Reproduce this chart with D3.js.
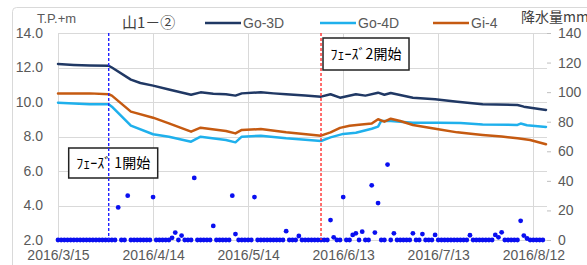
<!DOCTYPE html>
<html>
<head>
<meta charset="utf-8">
<script src="https://cdn.jsdelivr.net/npm/d3@7"></script>
<style>
  body { margin: 0; background: #fff; }
  svg { display: block; }
</style>
</head>
<body>
<svg id="chart" width="587" height="265"></svg>
<script>
// water level series (T.P.+m)
const go3d = [
  ["2016-03-15", 12.2], ["2016-03-20", 12.15], ["2016-03-25", 12.12], ["2016-03-31", 12.1],
  ["2016-04-01", 12.0], ["2016-04-07", 11.3], ["2016-04-10", 11.1], ["2016-04-14", 10.95],
  ["2016-04-19", 10.72], ["2016-04-23", 10.55], ["2016-04-26", 10.42], ["2016-04-29", 10.56],
  ["2016-05-03", 10.48], ["2016-05-07", 10.45], ["2016-05-10", 10.37], ["2016-05-12", 10.5],
  ["2016-05-18", 10.56], ["2016-05-22", 10.5], ["2016-05-26", 10.45], ["2016-06-01", 10.38],
  ["2016-06-06", 10.31], ["2016-06-09", 10.45], ["2016-06-12", 10.25], ["2016-06-17", 10.45],
  ["2016-06-20", 10.37], ["2016-06-24", 10.54], ["2016-06-26", 10.42], ["2016-06-28", 10.52],
  ["2016-07-05", 10.25], ["2016-07-12", 10.16], ["2016-07-19", 10.02], ["2016-07-27", 9.87],
  ["2016-08-07", 9.83], ["2016-08-09", 9.73], ["2016-08-16", 9.54]
];
const go4d = [
  ["2016-03-15", 9.96], ["2016-03-25", 9.87], ["2016-03-31", 9.87], ["2016-04-01", 9.73],
  ["2016-04-07", 8.63], ["2016-04-14", 8.13], ["2016-04-19", 7.99], ["2016-04-26", 7.7],
  ["2016-04-29", 7.99], ["2016-05-07", 7.8], ["2016-05-10", 7.66], ["2016-05-12", 7.99],
  ["2016-05-18", 8.05], ["2016-05-26", 7.9], ["2016-06-06", 7.74], ["2016-06-09", 7.95],
  ["2016-06-13", 8.15], ["2016-06-17", 8.22], ["2016-06-22", 8.45], ["2016-06-24", 8.57],
  ["2016-06-25", 8.9], ["2016-06-28", 8.9], ["2016-07-05", 8.8], ["2016-07-13", 8.8],
  ["2016-07-20", 8.78], ["2016-07-27", 8.7], ["2016-08-07", 8.67], ["2016-08-08", 8.75],
  ["2016-08-10", 8.65], ["2016-08-16", 8.55]
];
const gi4 = [
  ["2016-03-15", 10.5], ["2016-03-25", 10.5], ["2016-03-31", 10.45], ["2016-04-01", 10.37],
  ["2016-04-07", 9.44], ["2016-04-14", 9.09], ["2016-04-19", 8.76], ["2016-04-26", 8.28],
  ["2016-04-29", 8.51], ["2016-05-07", 8.32], ["2016-05-10", 8.18], ["2016-05-12", 8.38],
  ["2016-05-18", 8.43], ["2016-05-26", 8.24], ["2016-06-06", 8.05], ["2016-06-09", 8.24],
  ["2016-06-12", 8.5], ["2016-06-15", 8.62], ["2016-06-18", 8.68], ["2016-06-22", 8.75],
  ["2016-06-24", 9.0], ["2016-06-26", 8.86], ["2016-06-28", 9.03], ["2016-07-01", 8.9],
  ["2016-07-05", 8.67], ["2016-07-13", 8.42], ["2016-07-19", 8.24], ["2016-07-24", 8.14],
  ["2016-07-27", 8.09], ["2016-08-02", 8.0], ["2016-08-07", 7.9], ["2016-08-11", 7.8],
  ["2016-08-16", 7.55]
];

// daily rainfall (mm) from 2016-03-15
const rainStart = "2016-03-15";
const rain = [
  0, 0, 0, 0, 0, 0, 0, 0, 0, 0,
  0, 0, 0, 0, 0, 0, 0, 0, 0, 22,
  0, 0, 30, 0, 0, 0, 0, 0, 0, 0,
  29, 0, 0, 0, 0, 0, 1.5, 5, 0, 3,
  0, 0, 0, 42, 0, 0, 0, 0, 0, 9.5,
  0, 0, 0, 0, 0, 30, 4, 0, 0, 0,
  0, 0, 29, 0, 0, 0, 0, 0, 0, 0,
  0, 0, 6, 0, 0, 0, 2.7, 0, 0, 0,
  0, 0, 0, 0, 0, 0, 13.5, 1.8, 0, 0,
  29, 0, 0, 3.4, 4.5, 0, 5.6, 0, 0, 37,
  5, 25, 0, 0, 51, 0, 4.5, 0, 0, 0,
  0, 0, 4.5, 0, 0, 4, 0, 0, 0, 3.4,
  0, 0, 0, 0, 0, 0, 0, 0, 0, 0,
  3.2, 0, 0, 0, 0, 0, 0, 0, 3.4, 1.8,
  5.2, 0, 0, 0, 0, 0, 13, 3, 1, 0,
  0, 0, 0, 0
];

const xTicks = ["2016-03-15", "2016-04-14", "2016-05-14", "2016-06-13", "2016-07-13", "2016-08-12"];
const leftTicks = [2, 4, 6, 8, 10, 12, 14];
const rightTicks = [0, 20, 40, 60, 80, 100, 120, 140];
const phases = [
  {date: "2016-03-31", label: "ﾌｪｰｽﾞ 1開始"},
  {date: "2016-06-06", label: "ﾌｪｰｽﾞ2開始"}
];
const seriesNames = ["Go-3D", "Go-4D", "Gi-4"];

const parse = d3.utcParse("%Y-%m-%d");
const svg = d3.select('#chart');
const sans = "'Liberation Sans', Arial, sans-serif";
const jp = "'Noto Sans CJK JP', sans-serif";

const m = {left: 58, right: 547, top: 33, bottom: 240};

const x = d3.scaleUtc()
  .domain([parse("2016-03-15"), parse("2016-08-16")])
  .range([m.left, 546]);
const y = d3.scaleLinear().domain([2, 14]).range([m.bottom, m.top]);
const yr = d3.scaleLinear().domain([0, 140]).range([m.bottom, m.top]);

// outer frame
svg.append('rect')
  .attr('x', 12.5).attr('y', 7.5)
  .attr('width', 600).attr('height', 280)
  .attr('rx', 4)
  .attr('fill', 'none')
  .attr('stroke', '#d9d9d9');

// grid
svg.append('g')
  .selectAll('line')
  .data(leftTicks)
  .join('line')
  .attr('x1', m.left).attr('x2', m.right)
  .attr('y1', d => Math.round(y(d)) + 0.5)
  .attr('y2', d => Math.round(y(d)) + 0.5)
  .attr('stroke', '#d9d9d9');

svg.append('g')
  .selectAll('line')
  .data(xTicks)
  .join('line')
  .attr('x1', d => Math.round(x(parse(d))) + 0.5)
  .attr('x2', d => Math.round(x(parse(d))) + 0.5)
  .attr('y1', m.top).attr('y2', m.bottom)
  .attr('stroke', '#d9d9d9');

// axes
const xAxis = svg.append('g')
  .attr('transform', 'translate(0,' + m.bottom + ')')
  .call(d3.axisBottom(x)
    .tickValues(xTicks.map(parse))
    .tickSize(0)
    .tickPadding(10)
    .tickFormat(d3.utcFormat("%Y/%-m/%-d")));
xAxis.select('.domain').remove();
xAxis.selectAll('text')
  .attr('fill', '#595959')
  .style('font', '14px ' + sans);

const yAxis = svg.append('g')
  .attr('transform', 'translate(43,0)')
  .call(d3.axisLeft(y)
    .tickValues(leftTicks)
    .tickSize(0)
    .tickPadding(0)
    .tickFormat(d3.format('.1f')));
yAxis.select('.domain').remove();
yAxis.selectAll('text')
  .attr('fill', '#595959')
  .style('font', '14px ' + sans);

const yrAxis = svg.append('g')
  .attr('transform', 'translate(' + m.right + ',0)')
  .call(d3.axisRight(yr)
    .tickValues(rightTicks)
    .tickSize(4)
    .tickPadding(7));
yrAxis.select('.domain').remove();
yrAxis.selectAll('line').attr('stroke', '#bfbfbf');
yrAxis.selectAll('text')
  .attr('fill', '#595959')
  .style('font', '14px ' + sans);

// level lines
const line = d3.line()
  .x(d => x(parse(d[0])))
  .y(d => y(d[1]));

const colors = ['#203864', '#1fb0ec', '#c55a11'];
[go3d, go4d, gi4].forEach((s, i) => {
  svg.append('path')
    .datum(s)
    .attr('fill', 'none')
    .attr('stroke', colors[i])
    .attr('stroke-width', 2.5)
    .attr('stroke-linejoin', 'round')
    .attr('stroke-linecap', 'round')
    .attr('d', line);
});

// rainfall dots
const start = parse(rainStart);
svg.append('g')
  .selectAll('circle')
  .data(rain)
  .join('circle')
  .attr('cx', (d, i) => x(d3.utcDay.offset(start, i)))
  .attr('cy', d => yr(d))
  .attr('r', 2.4)
  .attr('fill', '#0a0ff0');

// phase labels
const boxes = [
  {dx: -40, y: 148, w: 89, h: 30},
  {dx: 2, y: 38, w: 86, h: 32}
];
phases.forEach((p, i) => {
  const px = x(parse(p.date));
  const b = boxes[i];
  svg.append('rect')
    .attr('x', px + b.dx).attr('y', b.y)
    .attr('width', b.w).attr('height', b.h)
    .attr('fill', '#fff')
    .attr('stroke', '#222')
    .attr('stroke-width', 1.5);
  svg.append('text')
    .attr('x', px + b.dx + b.w / 2)
    .attr('y', b.y + b.h / 2 + 5)
    .attr('text-anchor', 'middle')
    .attr('fill', '#000')
    .style('font', '14px ' + jp)
    .text(p.label);
});

// phase start dashed lines
const phaseColors = ['#2020ff', '#ff3030'];
phases.forEach((p, i) => {
  const px = x(parse(p.date));
  svg.append('line')
    .attr('x1', px).attr('x2', px)
    .attr('y1', m.top).attr('y2', m.bottom)
    .style('stroke', phaseColors[i])
    .style('stroke-width', 1.4)
    .style('stroke-dasharray', '3,2');
});

// legend
const legendX = [205, 320, 433];
seriesNames.forEach((n, i) => {
  svg.append('line')
    .attr('x1', legendX[i]).attr('x2', legendX[i] + 36)
    .attr('y1', 23).attr('y2', 23)
    .attr('stroke', colors[i])
    .attr('stroke-width', 2.5);
  svg.append('text')
    .attr('x', legendX[i] + 38)
    .attr('y', 28)
    .attr('fill', '#595959')
    .style('font', '14px ' + sans)
    .text(n);
});

// titles
svg.append('text')
  .attr('x', 37).attr('y', 23)
  .attr('fill', '#595959')
  .style('font', '13px ' + sans)
  .text('T.P.+m');

svg.append('text')
  .attr('x', 122).attr('y', 28)
  .attr('fill', '#404040')
  .style('font', '15px ' + jp)
  .text('山1－②');

svg.append('text')
  .attr('x', 521).attr('y', 22)
  .attr('fill', '#404040')
  .style('font', '14px ' + jp)
  .text('降水量mm');
</script>
</body>
</html>
